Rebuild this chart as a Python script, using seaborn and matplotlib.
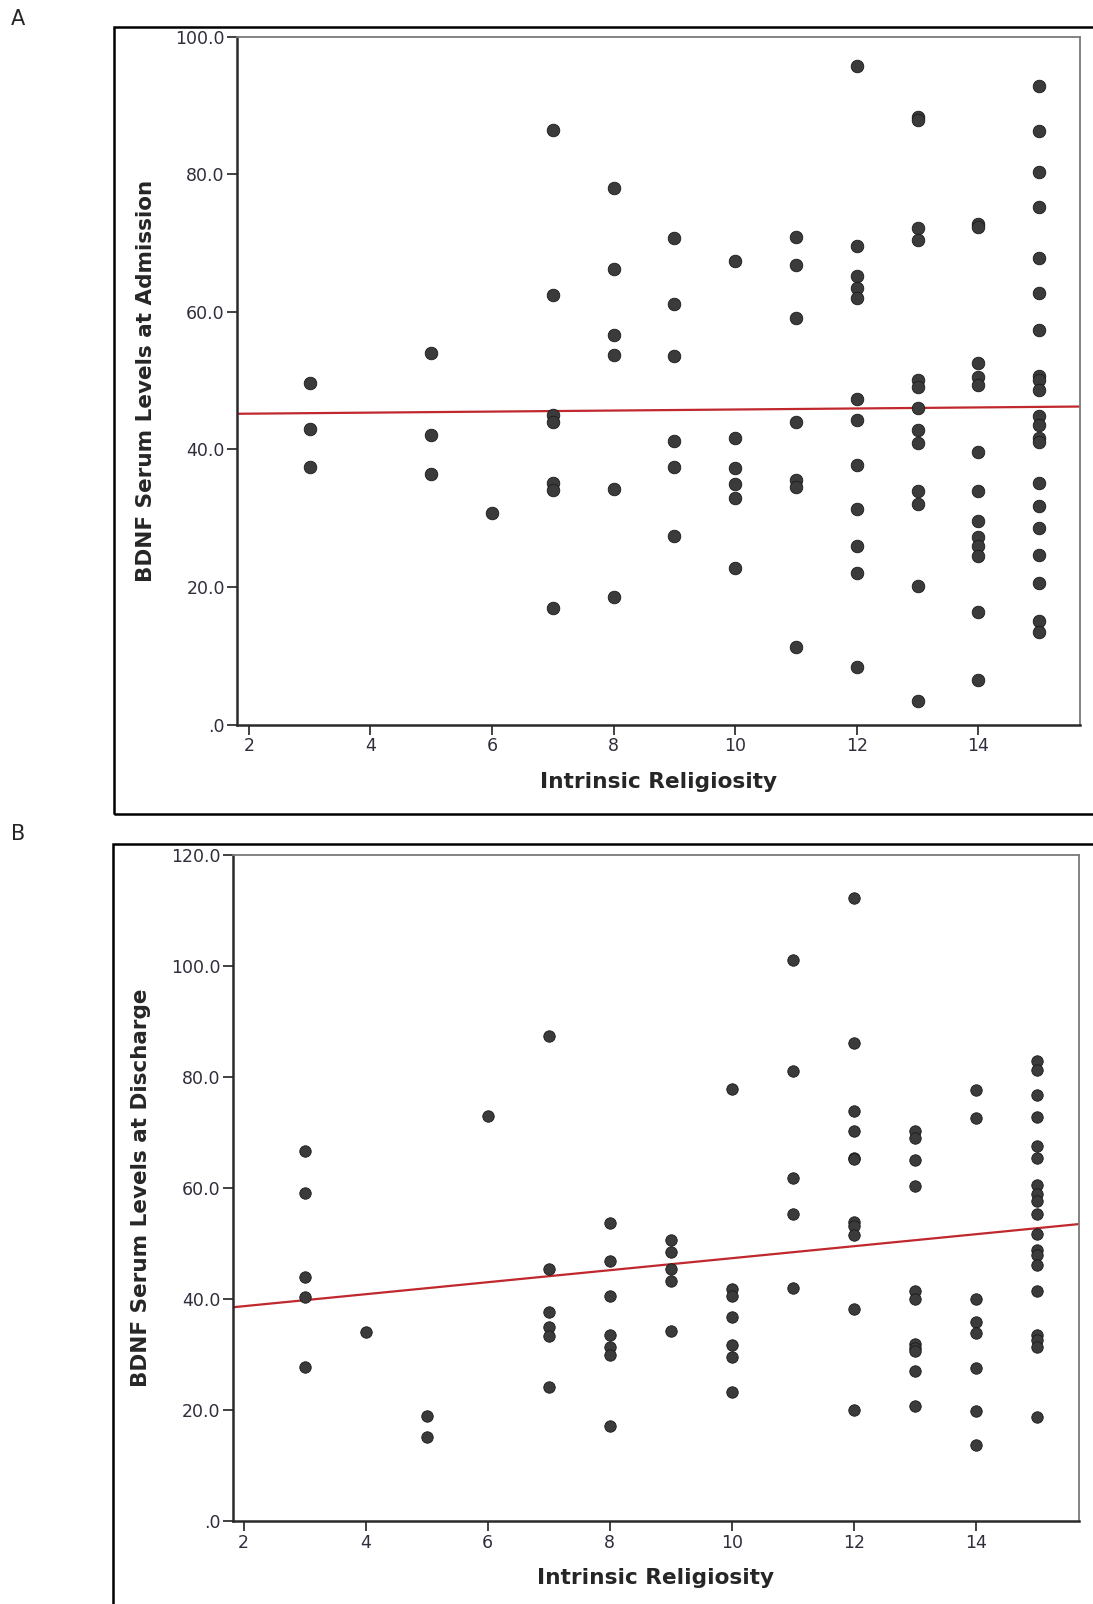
import numpy as np
import pandas as pd
import matplotlib
matplotlib.use("Agg")
import matplotlib.pyplot as plt
from matplotlib.patches import Rectangle
import seaborn as sns

# datos panel A (admision): puntuacion de religiosidad y niveles BDNF
adm_scores = [3, 5, 6, 7, 8, 9, 10, 11, 12, 13, 14, 15]
adm_values = [
    [49.7, 43.0, 37.5],
    [54.0, 42.1, 36.4],
    [30.7],
    [86.4, 62.5, 45.0, 44.0, 35.1, 34.1, 16.9],
    [78.0, 66.2, 56.6, 53.7, 34.3, 18.6],
    [70.8, 61.1, 53.6, 41.2, 37.5, 27.4],
    [67.4, 41.7, 37.3, 34.9, 33.0, 22.8],
    [70.9, 66.8, 59.1, 44.0, 35.5, 34.5, 11.3],
    [95.8, 69.6, 65.2, 63.5, 62.0, 47.3, 44.3, 37.8, 31.3, 26.0, 22.1, 8.4],
    [88.3, 87.9, 72.2, 70.4, 50.1, 49.1, 46.0, 42.8, 40.9, 34.0, 32.0, 20.2, 3.4],
    [72.7, 72.3, 52.5, 50.5, 49.3, 39.6, 34.0, 29.6, 27.3, 26.0, 24.5, 16.4, 6.5],
    [92.9, 86.3, 80.4, 75.2, 67.8, 62.7, 57.4, 50.7, 50.1, 48.7, 44.8, 43.5,
     41.6, 41.1, 35.1, 31.7, 28.6, 24.7, 20.6, 15.0, 13.5],
]

# datos panel B (alta)
dis_scores = [3, 4, 5, 6, 7, 8, 9, 10, 11, 12, 13, 14, 15]
dis_values = [
    [66.7, 59.2, 44.0, 40.4, 27.8],
    [34.0],
    [19.0, 15.2],
    [72.9],
    [87.4, 45.4, 37.6, 34.9, 33.4, 24.2],
    [53.7, 46.8, 40.5, 33.5, 31.4, 29.9, 17.2],
    [50.7, 48.4, 45.4, 43.2, 34.3],
    [77.8, 41.8, 40.5, 36.8, 31.7, 29.5, 23.3],
    [101.0, 81.1, 61.8, 55.3, 42.0],
    [112.3, 86.2, 73.8, 70.3, 65.5, 65.2, 53.9, 53.1, 51.6, 38.2, 20.0],
    [70.3, 69.1, 65.1, 60.4, 41.5, 40.0, 31.9, 31.2, 30.7, 27.1, 20.8],
    [77.7, 72.7, 40.0, 35.9, 33.9, 27.6, 19.8, 13.8],
    [82.9, 81.3, 76.8, 72.8, 67.5, 65.4, 60.6, 58.9, 57.7, 55.3, 51.7, 48.9,
     48.0, 46.2, 41.5, 33.5, 32.6, 31.4, 18.7],
]

x_ticks = [2, 4, 6, 8, 10, 12, 14]
y_ticks_a = [0, 20, 40, 60, 80, 100]
y_labels_a = ['.0', '20.0', '40.0', '60.0', '80.0', '100.0']
y_ticks_b = [0, 20, 40, 60, 80, 100, 120]
y_labels_b = ['.0', '20.0', '40.0', '60.0', '80.0', '100.0', '120.0']


def a_tabla(scores, values):
    filas = []
    for s, vals in zip(scores, values):
        for v in vals:
            filas.append((s, v))
    return pd.DataFrame(filas, columns=['religiosidad', 'bdnf'])


df_a = a_tabla(adm_scores, adm_values)
df_b = a_tabla(dis_scores, dis_values)

sns.set_style("white")
plt.rcParams['font.family'] = ['DejaVu Sans']

fig = plt.figure(figsize=(10.93, 16.04), dpi=100)
ax_a = fig.add_axes([0.2171, 0.5483, 0.9881 - 0.2171, 0.9771 - 0.5483])
ax_b = fig.add_axes([0.2129, 0.0516, 0.9875 - 0.2129, 0.4670 - 0.0516])

color_punto = '#3b3b3b'
color_linea = '#c0282d'
color_tick = '#2e2e3c'


def dibujar(ax, df, ylim, yticks, ylabels, ylabel, size, xlim):
    ax.set_xlim(*xlim)
    ax.set_ylim(*ylim)
    sns.scatterplot(data=df, x='religiosidad', y='bdnf', ax=ax, color=color_punto,
                    s=size, edgecolor='#1a1a1a', linewidth=0.6, legend=False, zorder=3)
    # recta de regresion sobre todo el eje
    sns.regplot(data=df, x='religiosidad', y='bdnf', ax=ax, scatter=False, ci=None,
                truncate=False, color=color_linea, line_kws={'linewidth': 1.6, 'zorder': 2})
    ax.set_xlim(*xlim)
    ax.set_ylim(*ylim)
    ax.set_xticks(x_ticks)
    ax.set_xticklabels([str(t) for t in x_ticks])
    ax.set_yticks(yticks)
    ax.set_yticklabels(ylabels)
    ax.tick_params(axis='both', direction='out', length=7, width=1.3, color='#333333',
                   labelsize=12.5, labelcolor=color_tick, left=True, bottom=True, pad=2)
    for lado in ['top', 'right']:
        ax.spines[lado].set_color('#7a7a7a')
        ax.spines[lado].set_linewidth(1.3)
    for lado in ['left', 'bottom']:
        ax.spines[lado].set_color('#2a2a2a')
        ax.spines[lado].set_linewidth(1.8)
    ax.set_xlabel('Intrinsic Religiosity', fontsize=15.6, fontweight='bold', labelpad=12)
    ax.set_ylabel(ylabel, fontsize=15.5, fontweight='bold', labelpad=14)


dibujar(ax_a, df_a, (0, 100), y_ticks_a, y_labels_a,
        'BDNF Serum Levels at Admission', 82, (1.81, 15.67))
dibujar(ax_b, df_b, (0, 120), y_ticks_b, y_labels_b,
        'BDNF Serum Levels at Discharge', 68, (1.82, 15.70))

# marcos exteriores de cada panel
fig.add_artist(Rectangle((0.1043, 0.4925), 1.0, 0.9834 - 0.4925, transform=fig.transFigure,
                         fill=False, edgecolor='black', linewidth=1.8))
fig.add_artist(Rectangle((0.1031, -0.05), 1.0, 0.4736 + 0.05, transform=fig.transFigure,
                         fill=False, edgecolor='black', linewidth=1.8))

fig.text(0.0168, 0.9879, 'A', fontsize=15, ha='center', va='center')
fig.text(0.0168, 0.4800, 'B', fontsize=15, ha='center', va='center')

fig.savefig('out.png', dpi=100, facecolor='white')
